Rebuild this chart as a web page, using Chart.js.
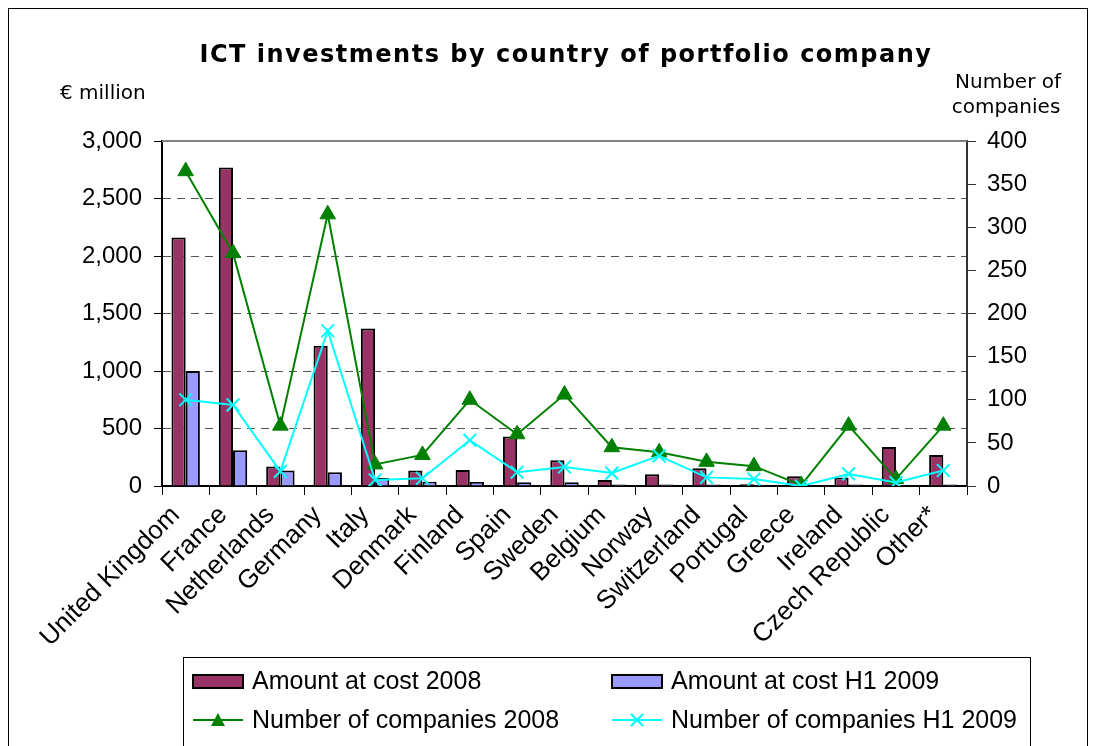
<!DOCTYPE html>
<html>
<head>
<meta charset="utf-8">
<script src="https://cdn.jsdelivr.net/npm/chart.js@4.4.0/dist/chart.umd.min.js"></script>
<style>
  body { margin: 0; background: #fff; }
  #wrap { width: 1095px; height: 746px; }
</style>
</head>
<body>
<div id="wrap"><canvas id="grafico"></canvas></div>
<script>
const paises = ['United Kingdom', 'France', 'Netherlands', 'Germany', 'Italy', 'Denmark', 'Finland', 'Spain', 'Sweden', 'Belgium', 'Norway', 'Switzerland', 'Portugal', 'Greece', 'Ireland', 'Czech Republic', 'Other*'];
const valor2008 = [2160, 2770, 170, 1220, 1370, 135, 140, 430, 225, 52, 102, 155, 15, 85, 75, 340, 270];
const valorH12009 = [1000, 310, 135, 120, 70, 37, 35, 32, 32, 14, 12, 14, 10, 7, 12, 6, 12];
const empresas2008 = [365, 270, 70, 315, 25, 36, 100, 60, 106, 45, 39, 28, 23, 1, 70, 8, 70];
const empresasH12009 = [100, 94, 17, 180, 7, 9, 53, 16, 22, 15, 35, 10, 8, 0, 14, 4, 18];
const ticksEsq = [0, 500, 1000, 1500, 2000, 2500, 3000];
const ticksDir = [0, 50, 100, 150, 200, 250, 300, 350, 400];

const fonte = '"Liberation Sans", Arial, sans-serif';

// titulo, rotulos dos eixos, borda e legenda desenhados a mao
const extras = {
    id: 'extras',
    afterDraw(chart) {
        const ctx = chart.ctx;
        const area = chart.chartArea;
        ctx.save();
        ctx.strokeStyle = '#000';
        ctx.lineWidth = 1;
        ctx.strokeRect(8.5, 8.5, 1079, 760);

        // linha solida no topo da area
        ctx.strokeStyle = '#808080';
        ctx.lineWidth = 2;
        ctx.beginPath();
        ctx.moveTo(area.left, area.top);
        ctx.lineTo(area.right, area.top);
        ctx.stroke();

        ctx.fillStyle = '#000';
        ctx.font = 'bold 24px "DejaVu Sans", Verdana, sans-serif';
        ctx.letterSpacing = '1.5px';
        ctx.textAlign = 'center';
        ctx.textBaseline = 'alphabetic';
        ctx.fillText('ICT investments by country of portfolio company', 566, 62);
        ctx.letterSpacing = '0px';

        ctx.font = '20px "DejaVu Sans", Verdana, sans-serif';
        ctx.textAlign = 'left';
        ctx.fillText('€ million', 60, 99);
        ctx.textAlign = 'center';
        ctx.fillText('Number of', 1008, 88);
        ctx.fillText('companies', 1006, 113);

        // legenda
        ctx.strokeStyle = '#000';
        ctx.lineWidth = 1;
        ctx.strokeRect(183.5, 657.5, 847, 100);
        const ds = chart.data.datasets;
        const pos = [[193, 681], [612, 681], [193, 720], [612, 720]];
        ctx.font = '25px ' + fonte;
        ctx.textBaseline = 'middle';
        ds.forEach((d, i) => {
            const [x, y] = pos[i];
            if (d.type === 'bar') {
                ctx.fillStyle = d.backgroundColor;
                ctx.fillRect(x, y - 6, 50, 13);
                ctx.strokeStyle = '#000';
                ctx.lineWidth = 2;
                ctx.strokeRect(x, y - 6, 50, 13);
            } else {
                ctx.strokeStyle = d.borderColor;
                ctx.lineWidth = 2;
                ctx.beginPath();
                ctx.moveTo(x, y);
                ctx.lineTo(x + 50, y);
                ctx.stroke();
                const m = x + 25;
                if (d.pointStyle === 'triangle') {
                    ctx.fillStyle = d.borderColor;
                    ctx.beginPath();
                    ctx.moveTo(m, y - 7);
                    ctx.lineTo(m + 7, y + 6);
                    ctx.lineTo(m - 7, y + 6);
                    ctx.closePath();
                    ctx.fill();
                } else {
                    ctx.beginPath();
                    ctx.moveTo(m - 6, y - 6); ctx.lineTo(m + 6, y + 6);
                    ctx.moveTo(m + 6, y - 6); ctx.lineTo(m - 6, y + 6);
                    ctx.stroke();
                }
            }
            ctx.fillStyle = '#000';
            ctx.textAlign = 'left';
            ctx.fillText(d.label, x + 59, y + 1);
        });
        ctx.restore();
    }
};

new Chart(document.getElementById('grafico'), {
    type: 'bar',
    data: {
        labels: paises,
        datasets: [{
            type: 'bar',
            label: 'Amount at cost 2008',
            data: valor2008,
            backgroundColor: '#993366',
            borderColor: '#000',
            borderWidth: 2,
            yAxisID: 'y',
            order: 2,
            categoryPercentage: 0.6,
            barPercentage: 1.0
        }, {
            type: 'bar',
            label: 'Amount at cost H1 2009',
            data: valorH12009,
            backgroundColor: '#9999FF',
            borderColor: '#000',
            borderWidth: 2,
            yAxisID: 'y',
            order: 2,
            categoryPercentage: 0.6,
            barPercentage: 1.0
        }, {
            type: 'line',
            label: 'Number of companies 2008',
            data: empresas2008,
            borderColor: '#008000',
            backgroundColor: '#008000',
            borderWidth: 2,
            pointStyle: 'triangle',
            pointRadius: 9,
            pointBorderWidth: 1,
            tension: 0,
            yAxisID: 'y1',
            order: 1
        }, {
            type: 'line',
            label: 'Number of companies H1 2009',
            data: empresasH12009,
            borderColor: '#00FFFF',
            backgroundColor: '#00FFFF',
            borderWidth: 2,
            pointStyle: 'crossRot',
            pointRadius: 9,
            pointBorderWidth: 2,
            tension: 0,
            yAxisID: 'y1',
            order: 0
        }]
    },
    options: {
        responsive: true,
        maintainAspectRatio: false,
        animation: false,
        devicePixelRatio: 1,
        layout: { padding: { top: 141, left: 0, right: 0, bottom: 0 } },
        plugins: { legend: { display: false }, title: { display: false }, tooltip: { enabled: false } },
        scales: {
            x: {
                offset: true,
                grid: { offset: true, drawOnChartArea: false, drawTicks: true, tickLength: 9, color: '#000' },
                border: { color: '#000', width: 2 },
                ticks: {
                    autoSkip: false, minRotation: 45, maxRotation: 45, padding: 5, labelOffset: -10,
                    color: '#000', font: { family: fonte, size: 26 }
                },
                afterFit(s) { s.height = 260; }
            },
            y: {
                position: 'left',
                min: 0, max: 3000,
                afterBuildTicks(s) { s.ticks = ticksEsq.map(v => ({ value: v })); },
                grid: { color: '#555', tickLength: 8, tickColor: '#000' },
                border: { color: '#000', width: 2, dash: [8, 6] },
                ticks: {
                    padding: 12, color: '#000', font: { family: fonte, size: 24 },
                    callback: v => v.toLocaleString('en-US')
                },
                afterFit(s) { s.width = 162; }
            },
            y1: {
                position: 'right',
                min: 0, max: 400,
                afterBuildTicks(s) { s.ticks = ticksDir.map(v => ({ value: v })); },
                grid: { drawOnChartArea: false, tickLength: 9, color: '#333' },
                border: { color: '#333', width: 2 },
                ticks: { padding: 11, color: '#000', font: { family: fonte, size: 24 } },
                afterFit(s) { s.width = 128; }
            }
        }
    },
    plugins: [extras]
});
</script>
</body>
</html>
